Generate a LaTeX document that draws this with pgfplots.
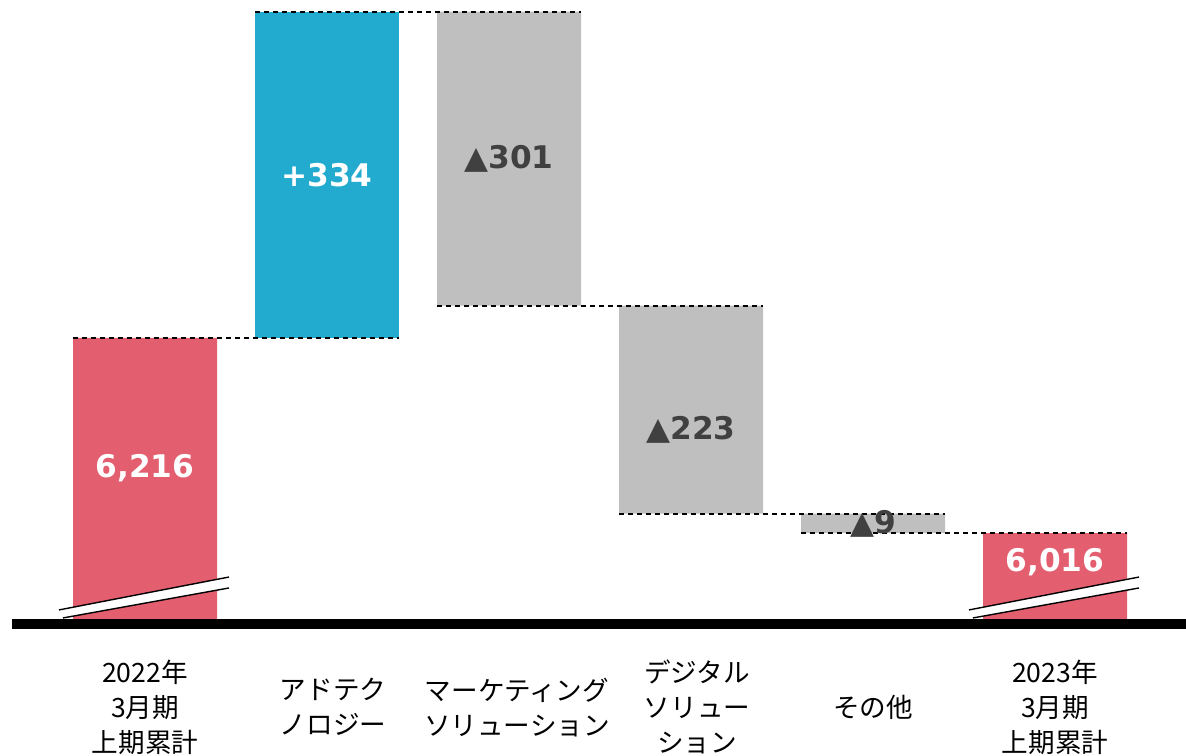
\documentclass[border=0pt]{standalone}
\usepackage{pgfplots}
\pgfplotsset{compat=1.18}
\usepackage{fontspec}
\setmainfont{DejaVu Sans}
\newfontfamily\jp{Noto Sans CJK JP}
\definecolor{cred}{RGB}{227,95,112}
\definecolor{cblue}{RGB}{35,171,207}
\definecolor{cgray}{RGB}{191,191,191}
\definecolor{ctext}{RGB}{64,64,64}
\pgfplotsset{
  base/.style={at={(0pt,65.5pt)}, anchor=south west, width=593pt, height=312pt,
    scale only axis, xmin=-0.7967, xmax=5.7198, ymin=5923.1, ymax=6562.1, hide axis}
}
\begin{document}
\begin{tikzpicture}
\useasboundingbox (0,0) rectangle (593pt,377.5pt);
\begin{axis}[base, ybar stacked, bar width=72pt]
\addplot[draw=none, fill=none] coordinates {(0,0) (1,6216) (2,6249) (3,6036) (4,6016) (5,0)};
\addplot[draw=none, fill=cred] coordinates {(0,6216) (1,0) (2,0) (3,0) (4,0) (5,6016)};
\addplot[draw=none, fill=cblue] coordinates {(0,0) (1,334) (2,0) (3,0) (4,0) (5,0)};
\addplot[draw=none, fill=cgray] coordinates {(0,0) (1,0) (2,301) (3,213) (4,20) (5,0)};
\end{axis}
\begin{axis}[base, clip=false]
% connectors
\addplot[black, line width=0.8pt, dash pattern=on 2.5pt off 2pt] coordinates {(-0.3956,6216) (1.3956,6216)};
\addplot[black, line width=0.8pt, dash pattern=on 2.5pt off 2pt] coordinates {(0.6044,6550) (2.3956,6550)};
\addplot[black, line width=0.8pt, dash pattern=on 2.5pt off 2pt] coordinates {(1.6044,6249) (3.3956,6249)};
\addplot[black, line width=0.8pt, dash pattern=on 2.5pt off 2pt] coordinates {(2.6044,6036) (4.3956,6036)};
\addplot[black, line width=0.8pt, dash pattern=on 2.5pt off 2pt] coordinates {(3.6044,6016) (5.3956,6016)};
% break marks
\addplot[fill=white, draw=none] coordinates {(-0.4725,5937.5) (0.4615,5971.2) (0.4615,5960.0) (-0.4505,5929.3)} -- cycle;
\addplot[black, line width=0.7pt] coordinates {(-0.4725,5937.5) (0.4615,5971.2)};
\addplot[black, line width=0.7pt] coordinates {(-0.4505,5929.3) (0.4615,5960.0)};
\addplot[fill=white, draw=none] coordinates {(4.5275,5937.5) (5.4615,5971.2) (5.4615,5960.0) (4.5495,5929.3)} -- cycle;
\addplot[black, line width=0.7pt] coordinates {(4.5275,5937.5) (5.4615,5971.2)};
\addplot[black, line width=0.7pt] coordinates {(4.5495,5929.3) (5.4615,5960.0)};
% baseline
\addplot[black, line width=5pt] coordinates {(-0.7308,5923.1) (5.7198,5923.1)};
% value labels
\addplot[only marks, mark=none, point meta=explicit symbolic, nodes near coords,
  nodes near coords align=center,
  every node near coord/.style={anchor=center, text=white, font=\fontsize{15.6}{18}\selectfont\bfseries}]
  table[meta=label] {
x y label
0 6083 6,216
1 6383 +334
5 5986 6,016
};
\addplot[only marks, mark=none, point meta=explicit symbolic, nodes near coords,
  nodes near coords align=center,
  every node near coord/.style={anchor=center, text=ctext, font=\fontsize{15.6}{18}\selectfont\bfseries}]
  table[meta=label] {
x y label
2 6399 ▲301
3 6122 ▲223
4 6026 ▲9
};
% category labels
\tikzset{cat/.style={align=center, text=black, font=\jp\fontsize{13.3}{17.5}\selectfont}}
\node[cat] at (axis cs:0,5838) {2022年\\3月期\\上期累計};
\node[cat, xshift=3pt] at (axis cs:1,5838) {アドテク\\ノロジー};
\node[cat, xshift=4pt] at (axis cs:2,5838) {マーケティング\\ソリューション};
\node[cat, xshift=3pt] at (axis cs:3,5838) {デジタル\\ソリュー\\ション};
\node[cat] at (axis cs:4,5838) {その他};
\node[cat] at (axis cs:5,5838) {2023年\\3月期\\上期累計};
\end{axis}
\end{tikzpicture}
\end{document}
